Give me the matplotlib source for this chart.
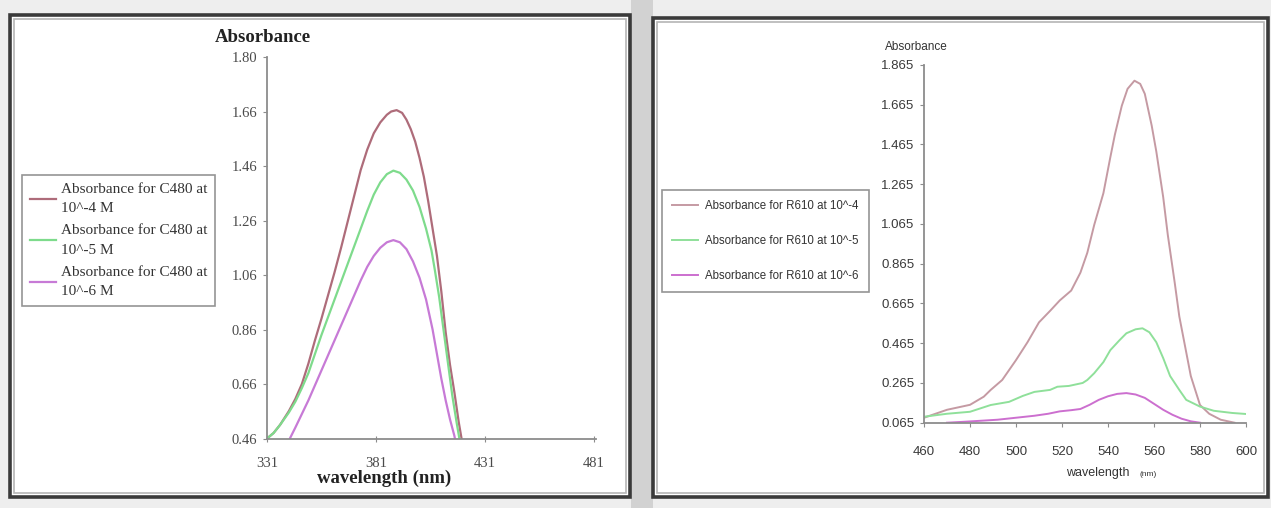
import matplotlib
matplotlib.use("Agg")
import matplotlib.pyplot as plt
from matplotlib.patches import Rectangle
from matplotlib.lines import Line2D

# ---------------- data: left panel (C480) ----------------
c480_x_e4 = [331, 334, 337, 341, 344, 347, 350, 353, 356, 359, 362, 365, 368, 371, 374,
             377, 380, 383, 386, 388, 390.5, 393, 395, 397, 399, 401, 403, 405, 407, 409,
             411, 413, 415, 417, 419, 420.5]
c480_y_e4 = [0.46, 0.48, 0.51, 0.56, 0.605, 0.66, 0.735, 0.82, 0.90, 0.985, 1.07, 1.16,
             1.255, 1.35, 1.445, 1.52, 1.58, 1.62, 1.648, 1.66, 1.665, 1.655, 1.63, 1.595,
             1.55, 1.49, 1.42, 1.33, 1.23, 1.13, 1.00, 0.85, 0.73, 0.63, 0.52, 0.45]
c480_x_e5 = [331, 334, 337, 341, 344, 347, 350, 353, 356, 359, 362, 365, 368, 371, 374,
             377, 380, 383, 386, 389, 392, 395, 398, 401, 404, 406.5, 408, 410, 412, 414,
             416, 418, 419.5]
c480_y_e5 = [0.46, 0.48, 0.51, 0.555, 0.595, 0.645, 0.70, 0.77, 0.84, 0.905, 0.97, 1.035,
             1.10, 1.165, 1.23, 1.295, 1.355, 1.40, 1.43, 1.443, 1.435, 1.41, 1.37, 1.31,
             1.23, 1.15, 1.08, 0.98, 0.86, 0.74, 0.62, 0.52, 0.45]
c480_x_e6 = [341.5, 344, 347, 350, 353, 356, 359, 362, 365, 368, 371, 374, 377, 380, 383,
             386, 389, 392, 395, 398, 401, 404, 407, 409, 411, 413, 415, 417, 418]
c480_y_e6 = [0.46, 0.50, 0.55, 0.60, 0.655, 0.71, 0.765, 0.82, 0.875, 0.93, 0.985, 1.04,
             1.09, 1.13, 1.16, 1.18, 1.188, 1.18, 1.155, 1.11, 1.05, 0.97, 0.86, 0.77, 0.68,
             0.60, 0.53, 0.47, 0.43]
c480_labels = ["Absorbance for C480 at\n10^-4 M",
               "Absorbance for C480 at\n10^-5 M",
               "Absorbance for C480 at\n10^-6 M"]
c480_xticks = [331, 381, 431, 481]
c480_yticks = [0.46, 0.66, 0.86, 1.06, 1.26, 1.46, 1.66, 1.86]
c480_yticklabels = ["0.46", "0.66", "0.86", "1.06", "1.26", "1.46", "1.66", "1.80"]

# ---------------- data: right panel (R610) ----------------
r610_x_e4 = [460, 470, 480, 486, 489, 494, 500, 505, 510, 515, 519, 524, 528, 531, 534,
             538, 541, 543, 546, 548.5, 551.5, 554, 556, 559, 561, 564, 566, 569, 571,
             574, 576, 580, 584, 589, 595]
r610_y_e4 = [0.09, 0.13, 0.155, 0.196, 0.23, 0.28, 0.38, 0.47, 0.57, 0.63, 0.68, 0.73,
             0.82, 0.92, 1.06, 1.22, 1.40, 1.515, 1.66, 1.745, 1.786, 1.77, 1.72, 1.56,
             1.43, 1.20, 1.01, 0.77, 0.60, 0.42, 0.30, 0.154, 0.11, 0.08, 0.065]
r610_x_e5 = [460, 470, 480, 489, 497, 503, 508, 514.8, 518, 523, 529, 531, 534, 538, 541,
             545, 548, 552, 555, 558, 561, 564, 567, 571, 574, 580, 586, 594, 601]
r610_y_e5 = [0.095, 0.11, 0.12, 0.154, 0.17, 0.20, 0.22, 0.23, 0.246, 0.25, 0.265, 0.28,
             0.314, 0.37, 0.43, 0.48, 0.515, 0.535, 0.54, 0.52, 0.47, 0.39, 0.30, 0.23,
             0.18, 0.146, 0.125, 0.114, 0.108]
r610_x_e6 = [470, 478, 485, 492, 500, 508, 514, 519, 524, 528, 532, 536, 540, 544, 548,
             552, 556, 560, 564, 568, 572, 576, 580]
r610_y_e6 = [0.065, 0.07, 0.075, 0.08, 0.09, 0.10, 0.11, 0.122, 0.128, 0.134, 0.155, 0.18,
             0.198, 0.21, 0.214, 0.207, 0.19, 0.16, 0.13, 0.105, 0.085, 0.072, 0.065]
r610_labels = ["Absorbance for R610 at 10^-4",
               "Absorbance for R610 at 10^-5",
               "Absorbance for R610 at 10^-6"]
r610_xticks = [460, 480, 500, 520, 540, 560, 580, 600]
r610_yticks = [0.065, 0.265, 0.465, 0.665, 0.865, 1.065, 1.265, 1.465, 1.665, 1.865]

# ---------------- figure ----------------
W, H = 1271, 508
fig = plt.figure(figsize=(W / 100, H / 100), dpi=100, facecolor="#eeeeee")


def fx(px):
    return px / W


def fy(py):
    return 1 - py / H


def panel(x0, y0, x1, y1):
    fig.add_artist(Rectangle((fx(x0), fy(y1)), fx(x1) - fx(x0), fy(y0) - fy(y1),
                             transform=fig.transFigure, facecolor="white",
                             edgecolor="#3a3a3a", lw=2.6, zorder=-3))
    fig.add_artist(Rectangle((fx(x0 + 4), fy(y1 - 4)), fx(x1 - x0 - 8), fy(y0) - fy(y0 + (y1 - y0 - 8)),
                             transform=fig.transFigure, facecolor="none",
                             edgecolor="#b5b5b5", lw=1.2, zorder=-2))


# shadow between panels
fig.add_artist(Rectangle((fx(631), 0), fx(22), 1, transform=fig.transFigure,
                         facecolor="#d2d2d2", edgecolor="none", zorder=-4))
panel(10, 15, 630, 497)
panel(653, 18, 1268, 497)

red_l, green_l, mag_l = "#ae6c7a", "#7edb8c", "#c77ad6"
red_r, green_r, mag_r = "#c59aa3", "#8fe09a", "#cc6fcf"

# ---------- left axes ----------
serif = "Liberation Serif"
ax1 = fig.add_axes([fx(267), fy(438.5), fx(596) - fx(267), fy(57) - fy(438.5)])
ax1.set_facecolor("none")
ax1.plot(c480_x_e4, c480_y_e4, color=red_l, lw=1.6, solid_joinstyle="round")
ax1.plot(c480_x_e5, c480_y_e5, color=green_l, lw=1.6, solid_joinstyle="round")
ax1.plot(c480_x_e6, c480_y_e6, color=mag_l, lw=1.6, solid_joinstyle="round")
ax1.set_xlim(331, 482)
ax1.set_ylim(0.46, 1.86)
ax1.set_xticks(c480_xticks)
ax1.set_xticklabels([str(v) for v in c480_xticks])
ax1.set_yticks(c480_yticks)
ax1.set_yticklabels(c480_yticklabels)
for s in ["top", "right"]:
    ax1.spines[s].set_visible(False)
for s in ["left", "bottom"]:
    ax1.spines[s].set_color("#8c8c8c")
    ax1.spines[s].set_linewidth(1.3)
ax1.tick_params(axis="y", direction="out", length=3, color="#8c8c8c", pad=4,
                labelsize=10.5, labelcolor="#4a4a4a")
ax1.tick_params(axis="x", direction="inout", length=5, color="#8c8c8c", pad=11,
                labelsize=10.5, labelcolor="#4a4a4a")
for t in ax1.get_xticklabels() + ax1.get_yticklabels():
    t.set_family(serif)
fig.text(fx(263), fy(37), "Absorbance", ha="center", va="center", fontsize=13.5,
         fontweight="bold", family=serif, color="#222222")
fig.text(fx(384), fy(478), "wavelength (nm)", ha="center", va="center", fontsize=13.5,
         fontweight="bold", family=serif, color="#222222")
h1 = [Line2D([], [], color=c, lw=1.6) for c in (red_l, green_l, mag_l)]
leg1 = ax1.legend(h1, c480_labels, loc="upper left", bbox_to_anchor=(fx(22), fy(175)),
                  bbox_transform=fig.transFigure, borderaxespad=0,
                  prop={"family": serif, "size": 11}, frameon=True, fancybox=False,
                  edgecolor="#7a7a7a", handlelength=1.7, handletextpad=0.35,
                  labelspacing=0.6, borderpad=0.5)
leg1.get_frame().set_linewidth(1.2)
for t in leg1.get_texts():
    t.set_color("#333333")
    t.set_linespacing(1.65)

# ---------- right axes ----------
sans = "Liberation Sans"
ax2 = fig.add_axes([fx(924), fy(422.7), fx(1246) - fx(924), fy(65) - fy(422.7)])
ax2.set_facecolor("none")
ax2.plot(r610_x_e4, r610_y_e4, color=red_r, lw=1.4, solid_joinstyle="round")
ax2.plot(r610_x_e5, r610_y_e5, color=green_r, lw=1.4, solid_joinstyle="round")
ax2.plot(r610_x_e6, r610_y_e6, color=mag_r, lw=1.4, solid_joinstyle="round")
ax2.set_xlim(460, 600)
ax2.set_ylim(0.065, 1.865)
ax2.set_xticks(r610_xticks)
ax2.set_xticklabels([str(v) for v in r610_xticks])
ax2.set_yticks(r610_yticks)
ax2.set_yticklabels(["%.3f" % v for v in r610_yticks])
for s in ["top", "right"]:
    ax2.spines[s].set_visible(False)
for s in ["left", "bottom"]:
    ax2.spines[s].set_color("#8c8c8c")
    ax2.spines[s].set_linewidth(1.3)
ax2.tick_params(axis="y", direction="out", length=3, color="#8c8c8c", pad=4,
                labelsize=9.5, labelcolor="#3a3a3a")
ax2.tick_params(axis="x", direction="out", length=3, color="#8c8c8c", pad=14,
                labelsize=9.5, labelcolor="#3a3a3a")
for t in ax2.get_xticklabels() + ax2.get_yticklabels():
    t.set_family(sans)
fig.text(fx(885), fy(47), "Absorbance", ha="left", va="center", fontsize=8.5,
         family=sans, color="#333333")
fig.text(fx(1098), fy(473), "wavelength", ha="center", va="center", fontsize=9,
         family=sans, color="#333333")
fig.text(fx(1148), fy(474), "(nm)", ha="center", va="center", fontsize=6,
         family=sans, color="#333333")
h2 = [Line2D([], [], color=c, lw=1.4) for c in (red_r, green_r, mag_r)]
leg2 = ax2.legend(h2, r610_labels, loc="upper left", bbox_to_anchor=(fx(662), fy(190)),
                  bbox_transform=fig.transFigure, borderaxespad=0,
                  prop={"family": sans, "size": 8.3}, frameon=True, fancybox=False,
                  edgecolor="#7a7a7a", handlelength=2.3, handletextpad=0.6,
                  labelspacing=2.0, borderpad=0.85)
leg2.get_frame().set_linewidth(1.2)
for t in leg2.get_texts():
    t.set_color("#333333")

fig.savefig("out.png", dpi=100, facecolor=fig.get_facecolor())
